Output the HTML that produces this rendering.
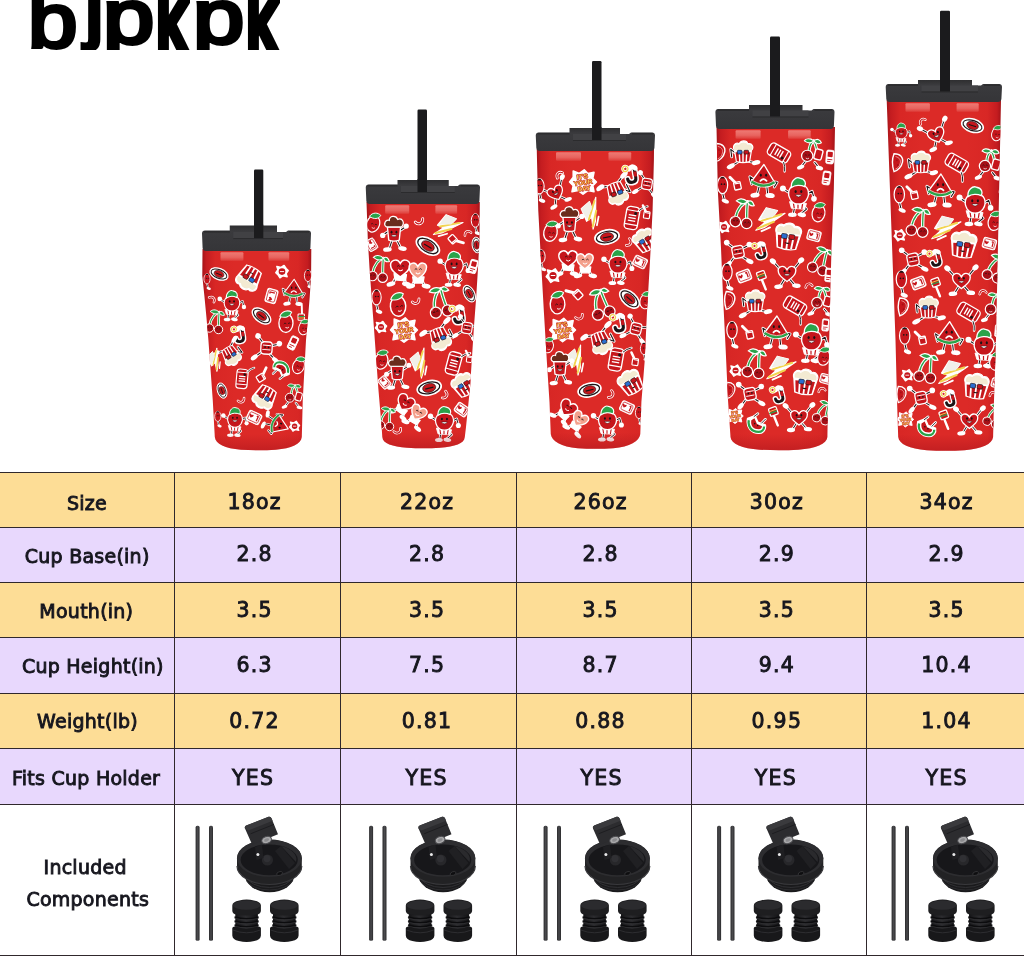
<!DOCTYPE html>
<html lang="en"><head><meta charset="utf-8"><title>BJPKPK tumbler size chart</title>
<style>
html,body{margin:0;padding:0;background:#fff}
body{width:1024px;height:958px;position:relative;overflow:hidden;font-family:"DejaVu Sans","Liberation Sans",sans-serif;color:#16161e}
.abs{position:absolute}
.row{position:absolute;left:0;width:1024px}
.t{position:absolute;width:200px;height:30px;line-height:30px;text-align:center;white-space:nowrap}
.lab{font-size:19px;letter-spacing:.25px;-webkit-text-stroke:.9px #16161e}
.val{font-size:20.5px;letter-spacing:1.25px;-webkit-text-stroke:.9px #16161e}
.hl{position:absolute;left:0;width:1024px;height:1px;background:#30282c}
.vl{position:absolute;width:1px;background:#30282c}
.logo{position:absolute;left:0;top:0;width:330px;height:50.3px;overflow:hidden}
.logo span{position:absolute;display:block;font-family:"Liberation Sans",sans-serif;color:#000;line-height:1;-webkit-text-stroke:3.8px #000;transform-origin:0 0}
</style></head>
<body>
<div class="logo" role="img" aria-label="bjpkpk"><span style="left:28.4px;top:-16.6px;font-size:74px;transform:scale(1.2,1.03)">b</span><span style="left:84.6px;top:-30.5px;font-size:76px;-webkit-text-stroke:4.4px #000;transform:scaleX(1.1)">j</span><span style="left:103px;top:-20.6px;font-size:74px;transform:scale(1.245,1.03)">p</span><span style="left:157px;top:-24px;font-size:88px;transform:scaleX(.655);-webkit-text-stroke:9px #000">k</span><span style="left:193.2px;top:-20.6px;font-size:74px;transform:scale(1.245,1.03)">p</span><span style="left:247.2px;top:-24px;font-size:88px;transform:scaleX(.655);-webkit-text-stroke:9px #000">k</span></div>
<svg class="abs" style="left:0;top:0" width="1024" height="470" viewBox="0 0 1024 470">
<defs>
<linearGradient id="rg" x1="0" x2="1" y1="0" y2="0"><stop offset="0" stop-color="#a41318"/><stop offset=".035" stop-color="#c41c20"/><stop offset=".12" stop-color="#d82725"/><stop offset=".3" stop-color="#dc2a27"/><stop offset=".7" stop-color="#dc2a27"/><stop offset=".88" stop-color="#d82725"/><stop offset=".965" stop-color="#c41c20"/><stop offset="1" stop-color="#a41318"/></linearGradient>
<linearGradient id="lg" x1="0" x2="0" y1="0" y2="1"><stop offset="0" stop-color="#2e2e30"/><stop offset=".22" stop-color="#3a3a3d"/><stop offset="1" stop-color="#353538"/></linearGradient>
<linearGradient id="hg" x1="0" x2="0" y1="0" y2="1"><stop offset="0" stop-color="#ee7a74"/><stop offset=".6" stop-color="#e8645f"/><stop offset="1" stop-color="#e25550" stop-opacity=".5"/></linearGradient>
<linearGradient id="bd" x1="0" x2="0" y1="0" y2="1"><stop offset="0" stop-color="#a0101a" stop-opacity="0"/><stop offset="1" stop-color="#a0101a" stop-opacity=".45"/></linearGradient>
<g id="s-wg"><polyline points="-4,6 -6,14" fill="none" stroke="#fff" stroke-width="3.0" stroke-linecap="round" stroke-linejoin="round"/><polyline points="-4,6 -6,14" fill="none" stroke="#1c1416" stroke-width="1.1" stroke-linecap="round" stroke-linejoin="round"/><polyline points="4,6 5,14" fill="none" stroke="#fff" stroke-width="3.0" stroke-linecap="round" stroke-linejoin="round"/><polyline points="4,6 5,14" fill="none" stroke="#1c1416" stroke-width="1.1" stroke-linecap="round" stroke-linejoin="round"/><polyline points="-8,0 -14,-4 -12,4" fill="none" stroke="#fff" stroke-width="3.0" stroke-linecap="round" stroke-linejoin="round"/><polyline points="-8,0 -14,-4 -12,4" fill="none" stroke="#1c1416" stroke-width="1.1" stroke-linecap="round" stroke-linejoin="round"/><polyline points="9,1 15,2 12,7" fill="none" stroke="#fff" stroke-width="3.0" stroke-linecap="round" stroke-linejoin="round"/><polyline points="9,1 15,2 12,7" fill="none" stroke="#1c1416" stroke-width="1.1" stroke-linecap="round" stroke-linejoin="round"/><ellipse cx="-8.5" cy="15.5" rx="5" ry="2.6" fill="#fff" transform="rotate(-8 -8.5 15.5)"/><ellipse cx="7.5" cy="16" rx="5" ry="2.6" fill="#fff" transform="rotate(5 7.5 16)"/><path d="M1,-17 L13,3 Q1,11 -13,2 Z" fill="#c5161c" stroke="#fff" stroke-width="1.45" stroke-linejoin="round"/><path d="M-13,2 Q1,11 13,3 L11.5,.5 Q1,7.5 -11.5,-.2 Z" fill="#2aa34a"/><path d="M-11.5,-.2 Q1,7.5 11.5,.5" fill="none" stroke="#f6c9c4" stroke-width=".9"/><ellipse cx="-2.3600000000000003" cy="-5.65" rx="1.1" ry="1.54" fill="#1c1416"/><ellipse cx="3.3600000000000003" cy="-5.65" rx="1.1" ry="1.54" fill="#1c1416"/><path d="M-2.8000000000000003,0.40000000000000036 Q0.5,-3.45 3.8000000000000003,0.40000000000000036" fill="none" stroke="#fff" stroke-width="1.7600000000000002" stroke-linecap="round"/></g>
<g id="s-sg"><polyline points="-7,-2 -15,-7" fill="none" stroke="#fff" stroke-width="3.0" stroke-linecap="round" stroke-linejoin="round"/><polyline points="-7,-2 -15,-7" fill="none" stroke="#1c1416" stroke-width="1.1" stroke-linecap="round" stroke-linejoin="round"/><polyline points="8,-1 15,-5 17,2" fill="none" stroke="#fff" stroke-width="3.0" stroke-linecap="round" stroke-linejoin="round"/><polyline points="8,-1 15,-5 17,2" fill="none" stroke="#1c1416" stroke-width="1.1" stroke-linecap="round" stroke-linejoin="round"/><polyline points="-3,9 -5,19" fill="none" stroke="#fff" stroke-width="3.0" stroke-linecap="round" stroke-linejoin="round"/><polyline points="-3,9 -5,19" fill="none" stroke="#1c1416" stroke-width="1.1" stroke-linecap="round" stroke-linejoin="round"/><polyline points="5,9 9,14 3,19" fill="none" stroke="#fff" stroke-width="3.0" stroke-linecap="round" stroke-linejoin="round"/><polyline points="5,9 9,14 3,19" fill="none" stroke="#1c1416" stroke-width="1.1" stroke-linecap="round" stroke-linejoin="round"/><circle cx="-16" cy="-8" r="3.2" fill="#fff"/><circle cx="17" cy="3" r="3" fill="#fff"/><ellipse cx="-6" cy="20" rx="4.6" ry="2.4" fill="#fff" transform="rotate(0 -6 20)"/><ellipse cx="4" cy="20" rx="4.6" ry="2.4" fill="#fff" transform="rotate(10 4 20)"/><path d="M-9,6 L9,8 L7,14 L-7,13 Z" fill="#fff" stroke="#fff" stroke-width="1"/><path d="M-5,6.5 L-4,13 M0,7 L0,13.4 M5,7.5 L4,13.6" stroke="#c5161c" stroke-width="1.3"/><path d="M0,-12 C12,-13 13,-2 9,4 C5,10 -4,10 -8,4 C-12,-3 -10,-12 0,-12 Z" fill="#c5161c" stroke="#fff" stroke-width="1.45"/><path d="M-7,-9 C-8,-16 -2,-21 2,-19 C8,-18 9,-13 7,-10 C3,-12 -3,-12 -7,-9 Z" fill="#2aa34a" stroke="#fff" stroke-width="1.4"/><ellipse cx="-2.4899999999999998" cy="-4.725" rx="1.15" ry="1.6099999999999999" fill="#1c1416"/><ellipse cx="3.4899999999999998" cy="-4.725" rx="1.15" ry="1.6099999999999999" fill="#1c1416"/><path d="M-2.9499999999999997,-1.2750000000000001 Q0.5,3.3249999999999993 3.9499999999999997,-1.2750000000000001 Z" fill="#fff" stroke="#1c1416" stroke-width=".5"/></g>
<g id="s-ch"><path d="M-6,5 C-4,-6 2,-12 7,-13 M6,7 C6,-2 6,-8 7,-13" fill="none" stroke="#fff" stroke-width="3.6" stroke-linecap="round"/><path d="M-6,5 C-4,-6 2,-12 7,-13 M6,7 C6,-2 6,-8 7,-13" fill="none" stroke="#2aa34a" stroke-width="1.4" stroke-linecap="round"/><path d="M7,-13 C2,-18 -3,-16 -5,-14 C0,-10 4,-10 7,-13 Z M7,-13 C11,-16 13,-12 14,-9 C10,-8 8,-10 7,-13Z" fill="#2aa34a" stroke="#fff" stroke-width="1.3"/><circle cx="-6" cy="8" r="5.6" fill="#a50f16" stroke="#fff" stroke-width="1.3"/><circle cx="6" cy="10" r="5.6" fill="#a50f16" stroke="#fff" stroke-width="1.3"/><path d="M-8.5,7.5 q1,-1.6 2,0 M-5,7.5 q1,-1.6 2,0 M3.5,9.5 q1,-1.6 2,0 M7,9.5 q1,-1.6 2,0" fill="none" stroke="#1c1416" stroke-width=".7"/><path d="M-9.5,5 a5,5 0 0 1 3,-2" fill="none" stroke="#f7b0ae" stroke-width=".9"/></g>
<g id="s-lt"><path d="M-4,-12 L8,-9 L3,-2 L16,-6 L-6,9 L-15,12 L-5,3 L-12,1 Z" fill="#fff" stroke="#fff" stroke-width="1.3" stroke-linejoin="round"/><path d="M-9,2 L12,-5 M-13,10 L4,3" stroke="#f2d44e" stroke-width="2.2" stroke-linecap="round"/><path d="M-9,13 L0,9" stroke="#fff" stroke-width="2" stroke-linecap="round"/><path d="M-4,-12 L8,-9 L3,-2 L-10,0 Z" fill="#f1efe9"/></g>
<g id="s-so"><ellipse cx="0" cy="1.5" rx="6.8" ry="9" fill="#c5161c" stroke="#fff" stroke-width="1.3" transform="rotate(12)"/><path d="M-5,-6 C-2,-11 4,-11 7,-8 C5,-4 0,-3 -5,-6 Z" fill="#2aa34a" stroke="#fff" stroke-width="1"/><path d="M-2.5,2 q1.2,-1.6 2.4,0 M1.5,2.5 q1.2,-1.6 2.4,0" fill="none" stroke="#1c1416" stroke-width=".7"/><path d="M-1.5,5.5 q1.8,1.6 3.4,.2" fill="none" stroke="#fff" stroke-width=".8"/></g>
<g id="s-pb"><path d="M-13,-3 C-16,-9 -11,-14 -6,-12 C-3,-16 4,-16 6,-12 C11,-14 15,-9 13,-4 L10,12 Q0,15 -10,12 Z" fill="#fff" stroke="#fff" stroke-width="1.3"/><path d="M-11,-1 L11,-2 L9,11.5 Q0,14 -9,11.5 Z" fill="#c5161c"/><path d="M-6,-1 L-5,12.5 M0,-1.5 L0,13 M6,-1.7 L5,12.5" stroke="#fff" stroke-width="2"/><path d="M-12,-4 C-14,-9 -10,-12 -6,-10 C-3,-14 3,-14 5,-10 C10,-12 13,-8 12,-4 Z" fill="#f3ead2"/><rect x="-7" y="-3" width="6" height="5" rx="1" fill="#2a6fd1" stroke="#1c1416" stroke-width=".7"/><rect x="1" y="-3" width="6" height="5" rx="1" fill="#c5161c" stroke="#1c1416" stroke-width=".7"/><path d="M-3,6 q3,3 6,0 z" fill="#1c1416"/></g>
<g id="s-pg"><polyline points="-3,6 -11,11" fill="none" stroke="#fff" stroke-width="3.0" stroke-linecap="round" stroke-linejoin="round"/><polyline points="-3,6 -11,11" fill="none" stroke="#1c1416" stroke-width="1.1" stroke-linecap="round" stroke-linejoin="round"/><polyline points="3,6 12,8" fill="none" stroke="#fff" stroke-width="3.0" stroke-linecap="round" stroke-linejoin="round"/><polyline points="3,6 12,8" fill="none" stroke="#1c1416" stroke-width="1.1" stroke-linecap="round" stroke-linejoin="round"/><polyline points="-8,-2 -13,-6 -12,2" fill="none" stroke="#fff" stroke-width="3.0" stroke-linecap="round" stroke-linejoin="round"/><polyline points="-8,-2 -13,-6 -12,2" fill="none" stroke="#1c1416" stroke-width="1.1" stroke-linecap="round" stroke-linejoin="round"/><ellipse cx="-13" cy="12" rx="4.6" ry="2.5" fill="#fff" transform="rotate(-25 -13 12)"/><ellipse cx="14" cy="8" rx="4.6" ry="2.5" fill="#fff" transform="rotate(-15 14 8)"/><path d="M-9,-5 C-12,-10 -8,-14 -4,-12 C-2,-16 4,-16 5,-12 C10,-13 12,-8 9,-5 L7,7 Q0,9 -7,7 Z" fill="#fff" stroke="#fff" stroke-width="1.3"/><path d="M-8,-3 L8,-3 L6.5,6.5 Q0,8.5 -6.5,6.5 Z" fill="#c5161c"/><path d="M-4,-3 L-3.4,7.4 M0,-3 L0,7.8 M4,-3 L3.4,7.4" stroke="#fff" stroke-width="1.5"/><path d="M-9,-5 C-11,-10 -8,-12 -4,-11 C-2,-14 3,-14 5,-11 C9,-12 11,-8 9,-5 Z" fill="#f3ead2"/><rect x="-6" y="-5" width="5" height="4" rx="1" fill="#2a6fd1" stroke="#1c1416" stroke-width=".7"/><rect x="1" y="-5" width="5" height="4" rx="1" fill="#c5161c" stroke="#1c1416" stroke-width=".7"/></g>
<g id="s-sc"><rect x="-12" y="-7" width="24" height="14" rx="4" fill="#c5161c" stroke="#fff" stroke-width="1.45"/><path d="M-7,-7 L-7,7 M8,-7 L8,7" stroke="#fff" stroke-width="1.2"/><path d="M-3,-4 L-3,4 M0,-4 L0,4 M3,-4 L3,4" stroke="#fff" stroke-width="1.5"/><path d="M9,6 q4,3 6,8" fill="none" stroke="#fff" stroke-width="2.6" stroke-linecap="round"/><path d="M9,6 q4,3 6,8" fill="none" stroke="#1c1416" stroke-width=".9"/><circle cx="5.5" cy="3" r="1.6" fill="#1c1416"/></g>
<g id="s-cg"><path d="M-2,-2 C-2,-8 0,-12 3,-14 M7,0 C6,-6 5,-10 3,-14" fill="none" stroke="#fff" stroke-width="3.4" stroke-linecap="round"/><path d="M-2,-2 C-2,-8 0,-12 3,-14 M7,0 C6,-6 5,-10 3,-14" fill="none" stroke="#2aa34a" stroke-width="1.3"/><path d="M3,-14 C-2,-18 -6,-16 -7,-14 C-3,-11 0,-11 3,-14 Z M3,-14 C7,-17 10,-15 11,-12 C8,-10 5,-11 3,-14Z" fill="#2aa34a" stroke="#fff" stroke-width="1.2"/><polyline points="-6,8 -10,13" fill="none" stroke="#fff" stroke-width="3.0" stroke-linecap="round" stroke-linejoin="round"/><polyline points="-6,8 -10,13" fill="none" stroke="#1c1416" stroke-width="1.1" stroke-linecap="round" stroke-linejoin="round"/><polyline points="4,9 8,14" fill="none" stroke="#fff" stroke-width="3.0" stroke-linecap="round" stroke-linejoin="round"/><polyline points="4,9 8,14" fill="none" stroke="#1c1416" stroke-width="1.1" stroke-linecap="round" stroke-linejoin="round"/><ellipse cx="-11" cy="14" rx="4" ry="2.2" fill="#fff" transform="rotate(-20 -11 14)"/><ellipse cx="9" cy="15" rx="4" ry="2.2" fill="#fff" transform="rotate(15 9 15)"/><rect x="4" y="-5" width="8" height="11" rx="2" fill="#c5161c" stroke="#fff" stroke-width="1.5" transform="rotate(15 8 0)"/><circle cx="-4" cy="2" r="6" fill="#a50f16" stroke="#fff" stroke-width="1.3"/><path d="M-6.5,1.5 q1,-1.6 2,0 M-3,1.5 q1,-1.6 2,0" fill="none" stroke="#1c1416" stroke-width=".7"/><path d="M-5.5,4.4 q1.8,1.4 3.4,0" fill="none" stroke="#fff" stroke-width=".8"/></g>
<g id="s-cd"><rect x="-7" y="-5.5" width="14" height="11" rx="2.2" fill="#fff" stroke="#fff" stroke-width="1"/><rect x="-5.6" y="-4.2" width="11.2" height="8.4" rx="1.4" fill="none" stroke="#c5161c" stroke-width=".7"/><path d="M-3.2,-1.2 q-1.6,-2 -2.2,0 q.2,1.6 2.2,2.8 q2,-1.2 2.2,-2.8 q-.6,-2 -2.2,0z" fill="#c5161c"/><path d="M2,-2.4 l1.6,0 l0,5" fill="none" stroke="#c5161c" stroke-width="1.3"/></g>
<g id="s-lg"><polyline points="-3,-3 -11,-9" fill="none" stroke="#fff" stroke-width="3.0" stroke-linecap="round" stroke-linejoin="round"/><polyline points="-3,-3 -11,-9" fill="none" stroke="#1c1416" stroke-width="1.1" stroke-linecap="round" stroke-linejoin="round"/><polyline points="3,-3 11,-7" fill="none" stroke="#fff" stroke-width="3.0" stroke-linecap="round" stroke-linejoin="round"/><polyline points="3,-3 11,-7" fill="none" stroke="#1c1416" stroke-width="1.1" stroke-linecap="round" stroke-linejoin="round"/><polyline points="-3,4 -9,12" fill="none" stroke="#fff" stroke-width="3.0" stroke-linecap="round" stroke-linejoin="round"/><polyline points="-3,4 -9,12" fill="none" stroke="#1c1416" stroke-width="1.1" stroke-linecap="round" stroke-linejoin="round"/><polyline points="3,4 11,9" fill="none" stroke="#fff" stroke-width="3.0" stroke-linecap="round" stroke-linejoin="round"/><polyline points="3,4 11,9" fill="none" stroke="#1c1416" stroke-width="1.1" stroke-linecap="round" stroke-linejoin="round"/><circle cx="-12" cy="-10" r="3" fill="#fff"/><circle cx="12" cy="-8" r="3" fill="#fff"/><ellipse cx="-10" cy="13" rx="4.2" ry="2.4" fill="#fff" transform="rotate(-50 -10 13)"/><ellipse cx="12.5" cy="10" rx="4.2" ry="2.4" fill="#fff" transform="rotate(25 12.5 10)"/><rect x="-6" y="-6.5" width="12" height="13" rx="3.5" fill="#c5161c" stroke="#fff" stroke-width="1.4" transform="rotate(-12)"/><path d="M-4.5,-2 L4,-3.6 M-4,2.6 L4.6,1" stroke="#fff" stroke-width="1"/><circle cx="-1.8" cy="-.6" r=".9" fill="#1c1416"/><circle cx="2" cy="-1.2" r=".9" fill="#1c1416"/></g>
<g id="s-jh"><path d="M3,-5 L3,4 Q3,8 -1,8 Q-5,8 -5,4" fill="none" stroke="#fff" stroke-width="6" stroke-linecap="round"/><path d="M3,-5 L3,4 Q3,8 -1,8 Q-5,8 -5,4" fill="none" stroke="#1c1416" stroke-width="3" stroke-linecap="round"/><path d="M3,-2 L3,3" stroke="#c5161c" stroke-width="3"/><path d="M-2,-5 q3,-4 6,0" fill="none" stroke="#fff" stroke-width="4.5" stroke-linecap="round"/><circle cx="-5.5" cy="-6" r="2.6" fill="none" stroke="#fff" stroke-width="2.8"/><circle cx="-5.5" cy="-6" r="2.6" fill="none" stroke="#f2d44e" stroke-width="1.2"/></g>
<g id="s-hg"><polyline points="-6,-3 -14,-12" fill="none" stroke="#fff" stroke-width="3.0" stroke-linecap="round" stroke-linejoin="round"/><polyline points="-6,-3 -14,-12" fill="none" stroke="#1c1416" stroke-width="1.1" stroke-linecap="round" stroke-linejoin="round"/><polyline points="6,-3 14,-13" fill="none" stroke="#fff" stroke-width="3.0" stroke-linecap="round" stroke-linejoin="round"/><polyline points="6,-3 14,-13" fill="none" stroke="#1c1416" stroke-width="1.1" stroke-linecap="round" stroke-linejoin="round"/><polyline points="-2,5 -7,13" fill="none" stroke="#fff" stroke-width="3.0" stroke-linecap="round" stroke-linejoin="round"/><polyline points="-2,5 -7,13" fill="none" stroke="#1c1416" stroke-width="1.1" stroke-linecap="round" stroke-linejoin="round"/><polyline points="2,5 8,12" fill="none" stroke="#fff" stroke-width="3.0" stroke-linecap="round" stroke-linejoin="round"/><polyline points="2,5 8,12" fill="none" stroke="#1c1416" stroke-width="1.1" stroke-linecap="round" stroke-linejoin="round"/><ellipse cx="-15" cy="-13" rx="3.6" ry="2.8" fill="#fff" transform="rotate(40 -15 -13)"/><ellipse cx="15" cy="-14" rx="3.6" ry="2.8" fill="#fff" transform="rotate(-40 15 -14)"/><ellipse cx="-9" cy="14" rx="4.6" ry="2.4" fill="#fff" transform="rotate(-5 -9 14)"/><ellipse cx="10" cy="13" rx="4.6" ry="2.4" fill="#fff" transform="rotate(5 10 13)"/><path d="M0,-4 C-3,-10 -11,-8 -9,-1 C-8,3 -3,6 0,8.5 C3,6 8,3 9,-1 C11,-8 3,-10 0,-4 Z" fill="#c5161c" stroke="#fff" stroke-width="1.45"/><ellipse cx="-2.6" cy="-2.5" rx="1.0" ry="1.4" fill="#1c1416"/><ellipse cx="2.6" cy="-2.5" rx="1.0" ry="1.4" fill="#1c1416"/><path d="M-3.0,0.5 Q0,4.5 3.0,0.5 Z" fill="#fff" stroke="#1c1416" stroke-width=".5"/></g>
<g id="s-pf"><path d="M0,0 L4,10" stroke="#fff" stroke-width="2.6" stroke-linecap="round"/><rect x="-5" y="-9" width="8.5" height="8.5" rx="1.2" fill="#c5161c" stroke="#fff" stroke-width="1.4" transform="rotate(-20 -1 -5)"/><path d="M-5,-2.5 L3,-5.4" stroke="#2aa34a" stroke-width="1.3"/><path d="M-5.4,-4.4 L2.4,-7.2" stroke="#f2d44e" stroke-width="1"/></g>
<g id="s-mc"><path d="M-3,3 C-5,-2 -1,-5 3,-3" fill="none" stroke="#fff" stroke-width="3.1" stroke-linecap="round"/><path d="M-3,3 C-5,-2 -1,-5 3,-3" fill="none" stroke="#c5161c" stroke-width="1.3" stroke-linecap="round"/></g>
<g id="s-po"><path d="M-4,-9 C3,-9 6,-5 5,0 C4,5 0,9 -4,10 C-6,4 -6,-4 -4,-9 Z" fill="#c5161c" stroke="#fff" stroke-width="1.5"/><path d="M-2.4,-6 C2,-5 3.4,-2 2.6,1 C2,4 0,6.4 -2.6,7.4" fill="none" stroke="#f3b6b0" stroke-width=".8"/><circle cx="-1" cy="-2" r="1" fill="#a50f16"/><circle cx="0" cy="3" r="1" fill="#a50f16"/></g>
<g id="s-sy"><path d="M-6,-6 L0,0" stroke="#fff" stroke-width="3" stroke-linecap="round"/><rect x="-1.5" y="-1" width="7" height="8" rx="1" fill="#c5161c" stroke="#fff" stroke-width="1.4" transform="rotate(-12 2 3)"/><path d="M-1,1 L5,0" stroke="#fff" stroke-width="1.3"/></g>
<g id="s-sw"><path d="M-9,-6 C-11,4 -5,10 3,10 C8,10 11,6 10,1 L2,-2 L-1,-9 Z" fill="#fff" stroke="#fff" stroke-width="1.45" stroke-linejoin="round"/><path d="M-7.6,-4 C-9,3 -4.6,8.4 2.6,8.4 C6,8.4 8.6,6 8.6,2.6" fill="none" stroke="#2aa34a" stroke-width="2.4"/><path d="M-5,-4 C-6,2 -2.6,5.6 3,5.6 C5,5.4 6.2,4.4 6.4,2.4 L1,0 L-1.6,-6 Z" fill="#c5161c"/><circle cx="-1.4" cy="-.4" r=".8" fill="#1c1416"/><circle cx="1.8" cy="1.6" r=".8" fill="#1c1416"/><polyline points="6,-1 10,-5" fill="none" stroke="#fff" stroke-width="2.8" stroke-linecap="round" stroke-linejoin="round"/><polyline points="6,-1 10,-5" fill="none" stroke="#1c1416" stroke-width="0.9" stroke-linecap="round" stroke-linejoin="round"/><polyline points="-2,-8 2,-11" fill="none" stroke="#fff" stroke-width="2.8" stroke-linecap="round" stroke-linejoin="round"/><polyline points="-2,-8 2,-11" fill="none" stroke="#1c1416" stroke-width="0.9" stroke-linecap="round" stroke-linejoin="round"/></g>
<g id="s-yd"><path d="M-8,-9 L-3,-7 L1,-10 L4,-7 L9,-8 L8,-3 L11,0 L8,3 L9,8 L4,7 L0,10 L-4,7 L-9,8 L-8,3 L-11,0 L-8,-4 Z" fill="#fff" stroke="#fff" stroke-width="1.3" stroke-linejoin="round"/><g font-family="Liberation Sans, DejaVu Sans, sans-serif" font-weight="bold" font-size="5.2" text-anchor="middle" fill="#f2d44e" stroke="#c5161c" stroke-width=".9" paint-order="stroke" transform="rotate(-8)"><text x="0" y="-2.8">IT'S</text><text x="0" y="2.2">YOUR</text><text x="0" y="7.2">DAY</text></g></g>
<g id="s-th"><polyline points="-10,4 -14,12" fill="none" stroke="#fff" stroke-width="3.0" stroke-linecap="round" stroke-linejoin="round"/><polyline points="-10,4 -14,12" fill="none" stroke="#1c1416" stroke-width="1.1" stroke-linecap="round" stroke-linejoin="round"/><polyline points="-4,5 -2,12" fill="none" stroke="#fff" stroke-width="3.0" stroke-linecap="round" stroke-linejoin="round"/><polyline points="-4,5 -2,12" fill="none" stroke="#1c1416" stroke-width="1.1" stroke-linecap="round" stroke-linejoin="round"/><polyline points="8,7 5,14" fill="none" stroke="#fff" stroke-width="3.0" stroke-linecap="round" stroke-linejoin="round"/><polyline points="8,7 5,14" fill="none" stroke="#1c1416" stroke-width="1.1" stroke-linecap="round" stroke-linejoin="round"/><polyline points="13,7 16,14" fill="none" stroke="#fff" stroke-width="3.0" stroke-linecap="round" stroke-linejoin="round"/><polyline points="13,7 16,14" fill="none" stroke="#1c1416" stroke-width="1.1" stroke-linecap="round" stroke-linejoin="round"/><ellipse cx="-16" cy="13" rx="4.4" ry="2.3" fill="#fff" transform="rotate(-15 -16 13)"/><ellipse cx="-1" cy="13" rx="4.4" ry="2.3" fill="#fff" transform="rotate(10 -1 13)"/><ellipse cx="3" cy="15" rx="4.4" ry="2.3" fill="#fff" transform="rotate(-10 3 15)"/><ellipse cx="18" cy="15" rx="4.4" ry="2.3" fill="#fff" transform="rotate(10 18 15)"/><path d="M-13,3 L-1,4 L-2,10 L-12,9 Z M5,6 L16,6 L15,12 L6,12 Z" fill="#fff" stroke="#fff" stroke-width="1.3" stroke-linejoin="round"/><path d="M-7,-7 C-10,-13 -18,-10 -16,-3 C-15,1 -10,4 -7,6 C-4,4 1,1 2,-3 C4,-10 -4,-13 -7,-7 Z" fill="#c5161c" stroke="#fff" stroke-width="1.45"/><path d="M10,-4 C7,-10 0,-7 2,-1 C3,3 7,6 10,8 C13,6 17,3 18,-1 C20,-7 13,-10 10,-4 Z" fill="#f4a08c" stroke="#fff" stroke-width="1.45"/><path d="M-10,-4 q1.2,-1.8 2.4,0 M-5.6,-4 q1.2,-1.8 2.4,0 M7,-1 q1.2,-1.8 2.4,0 M11.4,-1 q1.2,-1.8 2.4,0" fill="none" stroke="#1c1416" stroke-width=".8"/><path d="M-9,-1 q2,2.4 4.4,0 M8,2 q2,2.4 4.4,0" fill="none" stroke="#fff" stroke-width="1"/></g>
<g id="s-cy"><polyline points="-5,-2 -11,2" fill="none" stroke="#fff" stroke-width="3.0" stroke-linecap="round" stroke-linejoin="round"/><polyline points="-5,-2 -11,2" fill="none" stroke="#1c1416" stroke-width="1.1" stroke-linecap="round" stroke-linejoin="round"/><polyline points="6,-2 12,-6" fill="none" stroke="#fff" stroke-width="3.0" stroke-linecap="round" stroke-linejoin="round"/><polyline points="6,-2 12,-6" fill="none" stroke="#1c1416" stroke-width="1.1" stroke-linecap="round" stroke-linejoin="round"/><polyline points="-2,8 -5,17" fill="none" stroke="#fff" stroke-width="3.0" stroke-linecap="round" stroke-linejoin="round"/><polyline points="-2,8 -5,17" fill="none" stroke="#1c1416" stroke-width="1.1" stroke-linecap="round" stroke-linejoin="round"/><polyline points="3,8 7,16" fill="none" stroke="#fff" stroke-width="3.0" stroke-linecap="round" stroke-linejoin="round"/><polyline points="3,8 7,16" fill="none" stroke="#1c1416" stroke-width="1.1" stroke-linecap="round" stroke-linejoin="round"/><circle cx="-12" cy="3" r="2.8" fill="#fff"/><circle cx="13" cy="-7" r="2.8" fill="#fff"/><ellipse cx="-7" cy="18" rx="4.6" ry="2.4" fill="#fff" transform="rotate(-5 -7 18)"/><ellipse cx="9" cy="17" rx="4.6" ry="2.4" fill="#fff" transform="rotate(10 9 17)"/><path d="M-7,-6 L7,-6 L5.6,8 Q0,10 -5.6,8 Z" fill="#c5161c" stroke="#fff" stroke-width="1.45" stroke-linejoin="round"/><path d="M-8,-6 C-12,-9 -9,-14 -5,-13 C-5,-18 2,-19 4,-14 C9,-16 12,-10 8,-6 Z" fill="#6a2c1c" stroke="#fff" stroke-width="1.3"/><ellipse cx="-2.6" cy="-0.5" rx="1.0" ry="1.4" fill="#1c1416"/><ellipse cx="2.6" cy="-0.5" rx="1.0" ry="1.4" fill="#1c1416"/><path d="M-3.0,2.5 Q0,6.5 3.0,2.5 Z" fill="#fff" stroke="#1c1416" stroke-width=".5"/></g>
<g id="s-cl"><ellipse cx="0" cy="0" rx="12" ry="7" fill="#fff" stroke="#fff" stroke-width="1.3" transform="rotate(12)"/><ellipse cx="0" cy="0" rx="10.4" ry="5.4" fill="none" stroke="#1c1416" stroke-width="1.2" transform="rotate(12)"/><ellipse cx="0" cy="0" rx="6.4" ry="4.2" fill="#c5161c" stroke="#1c1416" stroke-width=".6" transform="rotate(12)"/><path d="M-4,-.6 L4,1" stroke="#1c1416" stroke-width="1.1"/></g>
<g id="s-sp"><path d="M-5,-5 L-1,-4 L2,-6 L4,-3 L6,-1 L4,2 L5,5 L1,4 L-2,6 L-4,3 L-6,1 L-4,-2 Z" fill="#fff" stroke="#fff" stroke-width="1.4" stroke-linejoin="round"/><circle cx="0" cy="0" r="3.2" fill="#c5161c"/><path d="M-2,0 L2,0" stroke="#fff" stroke-width=".9"/></g>
<g id="s-bc"><rect x="-4.5" y="-8" width="9" height="16" rx="2" fill="#fff" stroke="#fff" stroke-width="1"/><rect x="-3" y="-6" width="6" height="6" rx="1" fill="#c5161c"/><path d="M-3,3 L3,3 M-3,5.4 L1,5.4" stroke="#c5161c" stroke-width="1"/></g>
<g id="s-ec"><polyline points="0,6 2,14" fill="none" stroke="#fff" stroke-width="3.0" stroke-linecap="round" stroke-linejoin="round"/><polyline points="0,6 2,14" fill="none" stroke="#1c1416" stroke-width="1.1" stroke-linecap="round" stroke-linejoin="round"/><ellipse cx="3" cy="15" rx="4" ry="2.2" fill="#fff" transform="rotate(20 3 15)"/><ellipse cx="0" cy="-2" rx="5.5" ry="9" fill="#c5161c" stroke="#fff" stroke-width="1.3"/><path d="M-3,-9 q3,-4 6,0" fill="#1c1416"/><circle cx="-1" cy="-3" r=".9" fill="#1c1416"/><circle cx="2" cy="-3" r=".9" fill="#1c1416"/></g>
</defs>
<g id="cup1">
<path id="b1" d="M202.5,249 L202.3,276 L204.5,297 L206.5,318 L208.4,340 L212.75,400 L214.8,437 C215.4,444 225.2,448.4 240.9,449.7 Q258.3,450.7 275.7,449.7 C291.4,448.4 301.2,444 301.8,437 L302.75,400 L306,340 L308,318 L309.7,297 L311.1,276 L311.3,249 Z" fill="url(#rg)"/>
<clipPath id="cp1"><use href="#b1"/></clipPath>
<g clip-path="url(#cp1)"><use href="#s-cl" transform="translate(219.0,274.0) rotate(10) scale(0.799)"/><use href="#s-pb" transform="translate(249.0,278.0) rotate(-150) scale(0.846)"/><use href="#s-sp" transform="translate(282.0,271.6) scale(1.034)"/><use href="#s-wg" transform="translate(293.4,292.0) scale(0.752)"/><use href="#s-ec" transform="translate(308.0,277.0) scale(0.658)"/><use href="#s-cd" transform="translate(271.5,296.0) rotate(-75) scale(0.987)"/><use href="#s-sg" transform="translate(231.5,304.8) scale(0.733)"/><use href="#s-mc" transform="translate(211.5,299.8) rotate(90) scale(0.8)"/><use href="#s-cl" transform="translate(261.5,316.0) rotate(25) scale(0.893)"/><use href="#s-so" transform="translate(286.0,321.6) rotate(-10) scale(1.034)"/><use href="#s-pf" transform="translate(302.0,313.5) rotate(200) scale(0.752)"/><use href="#s-ch" transform="translate(214.0,322.0) scale(0.752)"/><use href="#s-jh" transform="translate(240.0,334.0) rotate(-10) scale(0.94)"/><use href="#s-lg" transform="translate(266.5,348.0) rotate(15) scale(0.94)"/><use href="#s-bc" transform="translate(293.0,343.0) rotate(25) scale(0.846)"/><use href="#s-pg" transform="translate(230.0,353.5) rotate(150) scale(0.846)"/><use href="#s-lt" transform="translate(215.0,359.0) rotate(-60) scale(0.658)"/><use href="#s-so" transform="translate(304.0,327.0) scale(0.752)"/><use href="#s-sc" transform="translate(242.0,378.8) rotate(-85) scale(0.799)"/><use href="#s-sy" transform="translate(262.8,375.0) rotate(70) scale(0.94)"/><use href="#s-sw" transform="translate(281.5,369.4) rotate(180) scale(0.846)"/><use href="#s-so" transform="translate(299.0,365.0) rotate(10) scale(0.846)"/><use href="#s-cl" transform="translate(222.0,390.6) rotate(60) scale(0.658)"/><use href="#s-mc" transform="translate(241.0,399.4) rotate(200) scale(0.8)"/><use href="#s-pb" transform="translate(264.6,397.0) rotate(-150) scale(0.799)"/><use href="#s-cg" transform="translate(292.8,396.2) scale(0.752)"/><use href="#s-sg" transform="translate(234.6,421.2) scale(0.705)"/><use href="#s-cd" transform="translate(254.0,417.5) rotate(25) scale(0.987)"/><use href="#s-wg" transform="translate(276.5,423.8) rotate(110) scale(0.752)"/><use href="#s-sp" transform="translate(294.6,426.2) scale(0.846)"/><use href="#s-ec" transform="translate(217.8,417.5) scale(0.564)"/><use href="#s-ec" transform="translate(207.0,280.0) scale(0.564)"/><rect x="202" y="434" width="109" height="18" fill="url(#bd)"/></g>
<rect x="220.5" y="252.2" width="22.9" height="8.6" rx="1" fill="url(#hg)"/><rect x="268.5" y="252.2" width="20.7" height="8.6" rx="1" fill="url(#hg)"/>
<rect x="254" y="169.5" width="9.300000000000011" height="69.1" rx="1.2" fill="#1b1b1d"/>
<path d="M202,233.6 Q202,230.6 205,230.6 L229.75,230.6 L229.75,225.6 L277,225.6 L277,232.1 L286,232.1 L288,230.6 L308,230.6 Q311,230.6 311,233.6 L310.4,248 Q310,251 307,251 L206,251 Q203,251 202.6,248 Z" fill="url(#lg)"/>
<path d="M233.25,232.1 L283,232.1 L283,238.1 L233.25,238.1 Z" fill="#414144"/><rect x="233.25" y="238.1" width="49.75" height="1" fill="#2b2b2d"/>
<rect x="204" y="231.0" width="25.75" height="1.6" fill="#2c2c2e"/><rect x="289" y="231.0" width="20" height="1.6" fill="#2c2c2e"/>
<rect x="254" y="224.6" width="9.300000000000011" height="13.5" fill="#1b1b1d"/>
</g>
<g id="cup2">
<path id="b2" d="M366.5,202 L367.8,239 L369.5,268 L371.6,297 L373.8,326 L378.3,388 L381.7,428 L382.3,437 C382.90000000000003,444 392.2,446.4 407.1,447.7 Q423.55,448.7 440.1,447.7 C454.9,446.4 464.2,444 464.8,437 L465.9,428 L470,388 L474,326 L476.2,297 L478,268 L479.5,239 L479.8,202 Z" fill="url(#rg)"/>
<clipPath id="cp2"><use href="#b2"/></clipPath>
<g clip-path="url(#cp2)"><use href="#s-so" transform="translate(373.6,222.4) rotate(5) scale(0.94)"/><use href="#s-cy" transform="translate(394.0,232.6) scale(0.94)"/><use href="#s-mc" transform="translate(419.0,220.4) rotate(200) scale(0.96)"/><use href="#s-lt" transform="translate(448.2,225.8) rotate(8) scale(0.893)"/><use href="#s-ec" transform="translate(475.4,222.0) scale(0.752)"/><use href="#s-mc" transform="translate(468.0,234.0) rotate(20) scale(0.8)"/><use href="#s-cd" transform="translate(371.5,244.8) rotate(60) scale(0.846)"/><use href="#s-cl" transform="translate(427.9,246.0) rotate(20) scale(1.081)"/><use href="#s-sy" transform="translate(455.7,240.7) rotate(150) scale(0.94)"/><use href="#s-cl" transform="translate(476.7,245.0) rotate(70) scale(0.658)"/><use href="#s-ch" transform="translate(377.6,269.2) scale(0.846)"/><use href="#s-th" transform="translate(407.5,270.6) scale(1.034)"/><use href="#s-sg" transform="translate(453.7,267.9) scale(0.846)"/><use href="#s-bc" transform="translate(473.3,266.5) rotate(15) scale(0.846)"/><use href="#s-cl" transform="translate(469.3,293.7) rotate(50) scale(0.752)"/><use href="#s-so" transform="translate(398.0,304.5) rotate(-15) scale(1.128)"/><use href="#s-mc" transform="translate(415.6,300.4) rotate(200) scale(0.88)"/><use href="#s-ch" transform="translate(438.7,303.2) rotate(-20) scale(0.987)"/><use href="#s-ec" transform="translate(376.5,299.0) scale(0.846)"/><use href="#s-jh" transform="translate(459.0,314.0) rotate(-10) scale(1.034)"/><use href="#s-yd" transform="translate(404.0,330.0) scale(1.222)"/><use href="#s-pg" transform="translate(439.0,336.0) rotate(160) scale(0.987)"/><use href="#s-sp" transform="translate(381.0,327.0) scale(0.94)"/><use href="#s-lg" transform="translate(467.0,328.0) rotate(20) scale(0.846)"/><use href="#s-so" transform="translate(381.7,359.4) scale(0.94)"/><use href="#s-cy" transform="translate(397.3,371.6) scale(0.893)"/><use href="#s-lt" transform="translate(420.4,362.0) rotate(-55) scale(0.846)"/><use href="#s-sc" transform="translate(453.7,363.4) rotate(-75) scale(0.94)"/><use href="#s-sy" transform="translate(468.6,356.6) rotate(20) scale(0.752)"/><use href="#s-cd" transform="translate(384.4,382.4) rotate(50) scale(0.846)"/><use href="#s-cl" transform="translate(429.2,387.9) rotate(-25) scale(1.034)"/><use href="#s-pb" transform="translate(463.8,385.0) rotate(-30) scale(0.799)"/><use href="#s-mc" transform="translate(444.0,394.6) rotate(160) scale(0.88)"/><use href="#s-th" transform="translate(410.0,408.0) rotate(30) scale(0.94)"/><use href="#s-sg" transform="translate(444.0,423.0) scale(0.846)"/><use href="#s-cd" transform="translate(461.8,409.6) rotate(35) scale(0.94)"/><use href="#s-ch" transform="translate(385.0,419.0) scale(0.752)"/><use href="#s-mc" transform="translate(397.3,430.0) rotate(200) scale(0.88)"/><rect x="365.75" y="432" width="114.25" height="18" fill="url(#bd)"/></g>
<rect x="385.2" y="205.2" width="24.0" height="8.6" rx="1" fill="url(#hg)"/><rect x="435.4" y="205.2" width="21.7" height="8.6" rx="1" fill="url(#hg)"/>
<rect x="417.5" y="109.5" width="9.5" height="83.0" rx="1.2" fill="#1b1b1d"/>
<path d="M365.75,187.5 Q365.75,184.5 368.75,184.5 L397.5,184.5 L397.5,180 L448.75,180 L448.75,186.0 L457.75,186.0 L459.75,184.5 L477,184.5 Q480,184.5 480,187.5 L479.4,201 Q479,204 476,204 L369.75,204 Q366.75,204 366.35,201 Z" fill="url(#lg)"/>
<path d="M401.0,186.0 L454.75,186.0 L454.75,192.0 L401.0,192.0 Z" fill="#414144"/><rect x="401.0" y="192.0" width="53.75" height="1" fill="#2b2b2d"/>
<rect x="367.75" y="184.9" width="29.75" height="1.6" fill="#2c2c2e"/><rect x="460.75" y="184.9" width="17.25" height="1.6" fill="#2c2c2e"/>
<rect x="417.5" y="179" width="9.5" height="13.0" fill="#1b1b1d"/>
</g>
<g id="cup3">
<path id="b3" d="M536.75,149 L537,160 L538.25,210 L541,261 L543.9,312 L546.9,362 L549.5,402 L550.75,434 C551.35,441 561.5,446.9 577.6,448.2 Q595.525,449.2 613.4,448.2 C629.6,446.9 639.6999999999999,441 640.3,434 L641.4,402 L644.6,362 L647,312 L650,261 L652.6,210 L653.9,160 L654,149 Z" fill="url(#rg)"/>
<clipPath id="cp3"><use href="#b3"/></clipPath>
<g clip-path="url(#cp3)"><use href="#s-mc" transform="translate(560.0,175.5) scale(0.88)"/><use href="#s-hg" transform="translate(555.8,193.0) rotate(-25) scale(0.846)"/><use href="#s-yd" transform="translate(583.0,182.0) scale(1.222)"/><use href="#s-pg" transform="translate(616.0,190.5) rotate(160) scale(0.987)"/><use href="#s-jh" transform="translate(632.0,174.0) rotate(-10) scale(1.034)"/><use href="#s-lg" transform="translate(647.0,184.0) rotate(20) scale(0.846)"/><use href="#s-ec" transform="translate(539.5,188.0) scale(0.846)"/><use href="#s-lt" transform="translate(592.0,212.0) rotate(-55) scale(0.893)"/><use href="#s-cy" transform="translate(569.5,223.0) scale(0.94)"/><use href="#s-sc" transform="translate(632.0,218.0) rotate(-80) scale(0.94)"/><use href="#s-so" transform="translate(550.8,231.0) scale(0.987)"/><use href="#s-sy" transform="translate(646.0,212.0) rotate(20) scale(0.846)"/><use href="#s-cl" transform="translate(607.0,237.0) rotate(-22) scale(1.034)"/><use href="#s-mc" transform="translate(628.0,242.0) rotate(160) scale(0.88)"/><use href="#s-pb" transform="translate(645.0,240.5) rotate(-30) scale(0.799)"/><use href="#s-th" transform="translate(575.0,261.0) scale(0.987)"/><use href="#s-sg" transform="translate(617.5,266.0) scale(0.846)"/><use href="#s-cd" transform="translate(640.0,262.0) rotate(25) scale(0.94)"/><use href="#s-ec" transform="translate(541.0,258.0) scale(0.752)"/><use href="#s-sp" transform="translate(553.0,275.6) scale(1.128)"/><use href="#s-sy" transform="translate(574.5,293.0) rotate(-30) scale(1.034)"/><use href="#s-so" transform="translate(557.6,302.5) rotate(-10) scale(1.081)"/><use href="#s-ch" transform="translate(600.0,305.0) rotate(-25) scale(0.987)"/><use href="#s-cl" transform="translate(629.5,298.8) rotate(30) scale(0.987)"/><use href="#s-so" transform="translate(646.0,300.0) scale(0.846)"/><use href="#s-mc" transform="translate(579.0,316.0) rotate(200) scale(0.88)"/><use href="#s-jh" transform="translate(619.5,322.5) rotate(-10) scale(1.034)"/><use href="#s-yd" transform="translate(562.6,330.0) scale(1.175)"/><use href="#s-pg" transform="translate(600.0,340.0) rotate(160) scale(0.987)"/><use href="#s-lg" transform="translate(636.0,328.8) rotate(25) scale(0.893)"/><use href="#s-lt" transform="translate(577.0,359.0) rotate(-55) scale(0.846)"/><use href="#s-cy" transform="translate(560.0,367.0) scale(0.893)"/><use href="#s-sc" transform="translate(616.0,359.5) rotate(-80) scale(0.94)"/><use href="#s-sy" transform="translate(634.5,359.0) rotate(20) scale(0.846)"/><use href="#s-ec" transform="translate(644.0,350.0) scale(0.658)"/><use href="#s-cl" transform="translate(589.5,390.0) rotate(-25) scale(0.987)"/><use href="#s-pb" transform="translate(630.8,382.5) rotate(-30) scale(0.846)"/><use href="#s-mc" transform="translate(610.0,394.0) rotate(160) scale(0.88)"/><use href="#s-th" transform="translate(572.0,413.8) rotate(35) scale(0.94)"/><use href="#s-sg" transform="translate(607.0,422.5) scale(0.846)"/><use href="#s-cd" transform="translate(627.0,407.5) rotate(25) scale(0.94)"/><use href="#s-ec" transform="translate(639.0,414.0) scale(0.658)"/><use href="#s-so" transform="translate(548.5,345.0) scale(0.752)"/><rect x="535.75" y="432.5" width="119.25" height="18" fill="url(#bd)"/></g>
<rect x="556.0" y="152.2" width="25.0" height="8.6" rx="1" fill="url(#hg)"/><rect x="608.5" y="152.2" width="22.7" height="8.6" rx="1" fill="url(#hg)"/>
<rect x="592" y="61" width="9.5" height="79.5" rx="1.2" fill="#1b1b1d"/>
<path d="M535.75,135.5 Q535.75,132.5 538.75,132.5 L569.5,132.5 L569.5,128 L620,128 L620,134.0 L629,134.0 L631,132.5 L652,132.5 Q655,132.5 655,135.5 L654.4,148 Q654,151 651,151 L539.75,151 Q536.75,151 536.35,148 Z" fill="url(#lg)"/>
<path d="M573.0,134.0 L626,134.0 L626,140.0 L573.0,140.0 Z" fill="#414144"/><rect x="573.0" y="140.0" width="53.0" height="1" fill="#2b2b2d"/>
<rect x="537.75" y="132.9" width="31.75" height="1.6" fill="#2c2c2e"/><rect x="632" y="132.9" width="21" height="1.6" fill="#2c2c2e"/>
<rect x="592" y="127" width="9.5" height="13.0" fill="#1b1b1d"/>
</g>
<g id="cup4">
<path id="b4" d="M716.5,127 L717.8,190 L721,248 L723.1,298 L725.6,348 L728,400 L730.5,437 C731.1,444 742.1,448.4 759.6,449.7 Q778.95,450.7 798.3,449.7 C815.8,448.4 826.8,444 827.4,437 L828,400 L829,348 L830.2,298 L831.5,248 L833.8,190 L835,127 Z" fill="url(#rg)"/>
<clipPath id="cp4"><use href="#b4"/></clipPath>
<g clip-path="url(#cp4)"><use href="#s-po" transform="translate(720.0,152.0) scale(0.94)"/><use href="#s-pg" transform="translate(743.0,155.0) scale(0.94)"/><use href="#s-sc" transform="translate(779.0,153.0) rotate(30) scale(0.94)"/><use href="#s-cg" transform="translate(811.0,154.0) scale(0.94)"/><use href="#s-bc" transform="translate(830.0,157.0) rotate(5) scale(0.846)"/><use href="#s-ec" transform="translate(722.5,187.0) scale(0.94)"/><use href="#s-sy" transform="translate(735.6,183.0) scale(0.94)"/><use href="#s-wg" transform="translate(763.0,180.5) scale(0.94)"/><use href="#s-sg" transform="translate(798.0,196.0) scale(0.94)"/><use href="#s-bc" transform="translate(826.5,178.0) rotate(8) scale(0.846)"/><use href="#s-sp" transform="translate(724.0,227.0) scale(0.94)"/><use href="#s-ch" transform="translate(741.0,214.0) scale(0.94)"/><use href="#s-lt" transform="translate(770.0,219.0) scale(0.94)"/><use href="#s-so" transform="translate(818.8,212.0) scale(0.94)"/><use href="#s-pb" transform="translate(788.0,237.0) rotate(8) scale(0.94)"/><use href="#s-cd" transform="translate(814.0,235.5) rotate(15) scale(0.94)"/><use href="#s-lg" transform="translate(738.0,252.0) scale(0.94)"/><use href="#s-jh" transform="translate(761.0,250.0) rotate(-15) scale(0.94)"/><use href="#s-ch" transform="translate(819.0,261.0) rotate(10) scale(0.893)"/><use href="#s-hg" transform="translate(787.0,273.5) scale(0.94)"/><use href="#s-cd" transform="translate(744.0,276.0) rotate(-20) scale(0.987)"/><use href="#s-pf" transform="translate(762.0,280.0) scale(0.94)"/><use href="#s-ec" transform="translate(727.0,274.0) scale(0.94)"/><use href="#s-mc" transform="translate(809.0,286.6) rotate(30) scale(0.8)"/><use href="#s-bc" transform="translate(829.0,275.0) rotate(5) scale(0.846)"/><use href="#s-po" transform="translate(730.0,300.0) scale(0.94)"/><use href="#s-pg" transform="translate(755.0,304.0) scale(0.94)"/><use href="#s-sc" transform="translate(795.0,306.0) rotate(30) scale(0.94)"/><use href="#s-cg" transform="translate(820.6,301.0) scale(0.893)"/><use href="#s-wg" transform="translate(776.0,332.0) scale(0.94)"/><use href="#s-sy" transform="translate(748.0,332.0) scale(0.94)"/><use href="#s-ec" transform="translate(732.0,332.0) scale(0.94)"/><use href="#s-sg" transform="translate(811.0,342.0) scale(0.94)"/><use href="#s-bc" transform="translate(825.5,325.0) rotate(5) scale(0.752)"/><use href="#s-ch" transform="translate(753.0,364.0) scale(0.94)"/><use href="#s-lt" transform="translate(781.0,367.5) scale(0.94)"/><use href="#s-so" transform="translate(824.0,356.0) scale(0.893)"/><use href="#s-pb" transform="translate(805.0,382.5) rotate(8) scale(0.893)"/><use href="#s-cd" transform="translate(826.0,379.0) rotate(15) scale(0.846)"/><use href="#s-sp" transform="translate(735.6,370.6) scale(0.94)"/><use href="#s-lg" transform="translate(750.0,394.0) scale(0.94)"/><use href="#s-jh" transform="translate(779.0,394.0) rotate(-15) scale(0.94)"/><use href="#s-po" transform="translate(730.6,390.0) scale(0.846)"/><use href="#s-ch" transform="translate(822.0,412.5) rotate(10) scale(0.752)"/><use href="#s-mc" transform="translate(822.0,391.0) rotate(30) scale(0.8)"/><use href="#s-hg" transform="translate(799.0,417.5) scale(0.893)"/><use href="#s-pf" transform="translate(774.0,416.0) scale(0.94)"/><use href="#s-sw" transform="translate(756.0,424.0) scale(0.94)"/><use href="#s-yd" transform="translate(735.0,416.0) scale(0.752)"/><rect x="715.4" y="434" width="119.10000000000002" height="18" fill="url(#bd)"/></g>
<rect x="735.6" y="130.2" width="25.0" height="8.6" rx="1" fill="url(#hg)"/><rect x="788.1" y="130.2" width="22.6" height="8.6" rx="1" fill="url(#hg)"/>
<rect x="770" y="36.5" width="10" height="80.5" rx="1.2" fill="#1b1b1d"/>
<path d="M715.4,112 Q715.4,109 718.4,109 L749,109 L749,105 L802.5,105 L802.5,110.5 L811.5,110.5 L813.5,109 L831.5,109 Q834.5,109 834.5,112 L833.9,126 Q833.5,129 830.5,129 L719.4,129 Q716.4,129 716.0,126 Z" fill="url(#lg)"/>
<path d="M752.5,110.5 L808.5,110.5 L808.5,116.5 L752.5,116.5 Z" fill="#414144"/><rect x="752.5" y="116.5" width="56.0" height="1" fill="#2b2b2d"/>
<rect x="717.4" y="109.4" width="31.600000000000023" height="1.6" fill="#2c2c2e"/><rect x="814.5" y="109.4" width="18.0" height="1.6" fill="#2c2c2e"/>
<rect x="770" y="104" width="10" height="12.5" fill="#1b1b1d"/>
</g>
<g id="cup5">
<path id="b5" d="M886.7,100 L895.5,340 L897,400 L898.2,437 C898.8000000000001,444 909.6,448.9 926.7,450.2 Q945.6500000000001,451.2 964.6,450.2 C981.7,448.9 992.5,444 993.1,437 L994,400 L996,340 L1001,100 Z" fill="url(#rg)"/>
<clipPath id="cp5"><use href="#b5"/></clipPath>
<g clip-path="url(#cp5)"><use href="#s-po" transform="translate(897.8,162.2) scale(0.94)"/><use href="#s-pg" transform="translate(920.7,165.2) scale(0.94)"/><use href="#s-sc" transform="translate(956.8,163.2) rotate(30) scale(0.94)"/><use href="#s-cg" transform="translate(988.7,164.2) scale(0.94)"/><use href="#s-bc" transform="translate(1007.6,167.1) rotate(5) scale(0.846)"/><use href="#s-ec" transform="translate(899.3,196.3) scale(0.94)"/><use href="#s-sy" transform="translate(912.5,192.4) scale(0.94)"/><use href="#s-wg" transform="translate(940.0,190.0) scale(0.94)"/><use href="#s-sg" transform="translate(974.6,205.1) scale(0.94)"/><use href="#s-bc" transform="translate(1003.6,187.6) rotate(8) scale(0.846)"/><use href="#s-sp" transform="translate(899.7,235.3) scale(0.94)"/><use href="#s-ch" transform="translate(917.0,222.6) scale(0.94)"/><use href="#s-lt" transform="translate(945.9,227.5) scale(0.94)"/><use href="#s-so" transform="translate(994.9,220.7) scale(0.94)"/><use href="#s-pb" transform="translate(963.4,245.0) rotate(8) scale(0.94)"/><use href="#s-cd" transform="translate(989.4,243.6) rotate(15) scale(0.94)"/><use href="#s-lg" transform="translate(913.0,259.6) scale(0.94)"/><use href="#s-jh" transform="translate(936.0,257.7) rotate(-15) scale(0.94)"/><use href="#s-ch" transform="translate(993.7,268.4) rotate(10) scale(0.893)"/><use href="#s-hg" transform="translate(961.4,280.6) scale(0.94)"/><use href="#s-cd" transform="translate(918.3,283.0) rotate(-20) scale(0.987)"/><use href="#s-pf" transform="translate(936.2,286.9) scale(0.94)"/><use href="#s-ec" transform="translate(901.4,281.1) scale(0.94)"/><use href="#s-mc" transform="translate(983.0,293.3) rotate(30) scale(0.8)"/><use href="#s-bc" transform="translate(1003.3,282.0) rotate(5) scale(0.846)"/><use href="#s-po" transform="translate(903.6,306.4) scale(0.94)"/><use href="#s-pg" transform="translate(928.5,310.3) scale(0.94)"/><use href="#s-sc" transform="translate(968.5,312.2) rotate(30) scale(0.94)"/><use href="#s-cg" transform="translate(994.2,307.4) scale(0.893)"/><use href="#s-wg" transform="translate(948.7,337.6) scale(0.94)"/><use href="#s-sy" transform="translate(920.7,337.6) scale(0.94)"/><use href="#s-ec" transform="translate(904.7,337.6) scale(0.94)"/><use href="#s-sg" transform="translate(983.5,347.3) scale(0.94)"/><use href="#s-bc" transform="translate(998.4,330.7) rotate(5) scale(0.752)"/><use href="#s-ch" transform="translate(924.8,368.7) scale(0.94)"/><use href="#s-lt" transform="translate(952.8,372.1) scale(0.94)"/><use href="#s-so" transform="translate(996.1,360.9) scale(0.893)"/><use href="#s-pb" transform="translate(976.3,386.7) rotate(8) scale(0.893)"/><use href="#s-cd" transform="translate(997.4,383.3) rotate(15) scale(0.846)"/><use href="#s-sp" transform="translate(907.3,375.2) scale(0.94)"/><use href="#s-lg" transform="translate(921.0,397.9) scale(0.94)"/><use href="#s-jh" transform="translate(950.0,397.9) rotate(-15) scale(0.94)"/><use href="#s-po" transform="translate(901.7,394.1) scale(0.846)"/><use href="#s-ch" transform="translate(992.5,416.0) rotate(10) scale(0.752)"/><use href="#s-mc" transform="translate(993.1,395.0) rotate(30) scale(0.8)"/><use href="#s-hg" transform="translate(969.4,420.8) scale(0.893)"/><use href="#s-pf" transform="translate(944.4,419.4) scale(0.94)"/><use href="#s-sw" transform="translate(926.2,427.2) scale(0.94)"/><use href="#s-yd" transform="translate(905.4,419.4) scale(0.752)"/><use href="#s-sg" transform="translate(901.0,134.0) scale(0.564)"/><use href="#s-hg" transform="translate(936.5,135.0) rotate(-20) scale(0.893)"/><use href="#s-cl" transform="translate(972.5,125.5) rotate(5) scale(0.94)"/><use href="#s-mc" transform="translate(923.0,122.0) scale(0.8)"/><use href="#s-so" transform="translate(997.0,133.0) scale(0.752)"/><rect x="885.7" y="434.5" width="116.29999999999995" height="18" fill="url(#bd)"/></g>
<rect x="905.5" y="103.2" width="24.4" height="8.6" rx="1" fill="url(#hg)"/><rect x="956.6" y="103.2" width="22.1" height="8.6" rx="1" fill="url(#hg)"/>
<rect x="940" y="10.8" width="10" height="81.2" rx="1.2" fill="#1b1b1d"/>
<path d="M885.7,87 Q885.7,84 888.7,84 L918,84 L918,80 L972,80 L972,85.5 L981,85.5 L983,84 L999,84 Q1002,84 1002,87 L1001.4,99 Q1001,102 998,102 L889.7,102 Q886.7,102 886.3000000000001,99 Z" fill="url(#lg)"/>
<path d="M921.5,85.5 L978,85.5 L978,91.5 L921.5,91.5 Z" fill="#414144"/><rect x="921.5" y="91.5" width="56.5" height="1" fill="#2b2b2d"/>
<rect x="887.7" y="84.4" width="30.299999999999955" height="1.6" fill="#2c2c2e"/><rect x="984" y="84.4" width="16" height="1.6" fill="#2c2c2e"/>
<rect x="940" y="79" width="10" height="12.5" fill="#1b1b1d"/>
</g>
</svg>
<div class="abs" style="left:0;top:0;width:1024px;height:958px">
<div class="row" style="top:472px;height:55px;background:#FDDD96"></div>
<div class="row" style="top:527px;height:55px;background:#E8D8FD"></div>
<div class="row" style="top:582px;height:55px;background:#FDDD96"></div>
<div class="row" style="top:637px;height:56px;background:#E8D8FD"></div>
<div class="row" style="top:693px;height:55px;background:#FDDD96"></div>
<div class="row" style="top:748px;height:56px;background:#E8D8FD"></div>
<div class="t lab" style="left:-13.00px;top:487.90px;">Size</div><div class="t val" style="left:154.60px;top:487.40px;">18oz</div><div class="t val" style="left:327.10px;top:487.40px;">22oz</div><div class="t val" style="left:500.60px;top:487.40px;">26oz</div><div class="t val" style="left:676.90px;top:487.40px;">30oz</div><div class="t val" style="left:846.60px;top:487.40px;">34oz</div>
<div class="t lab" style="left:-12.85px;top:540.90px;">Cup Base(in)</div><div class="t val" style="left:154.60px;top:539.40px;">2.8</div><div class="t val" style="left:327.10px;top:539.40px;">2.8</div><div class="t val" style="left:500.60px;top:539.40px;">2.8</div><div class="t val" style="left:676.90px;top:539.40px;">2.9</div><div class="t val" style="left:846.60px;top:539.40px;">2.9</div>
<div class="t lab" style="left:-13.70px;top:595.70px;">Mouth(in)</div><div class="t val" style="left:154.60px;top:594.70px;">3.5</div><div class="t val" style="left:327.10px;top:594.70px;">3.5</div><div class="t val" style="left:500.60px;top:594.70px;">3.5</div><div class="t val" style="left:676.90px;top:594.70px;">3.5</div><div class="t val" style="left:846.60px;top:594.70px;">3.5</div>
<div class="t lab" style="left:-7.15px;top:651.10px;">Cup Height(in)</div><div class="t val" style="left:154.60px;top:650.20px;">6.3</div><div class="t val" style="left:327.10px;top:650.20px;">7.5</div><div class="t val" style="left:500.60px;top:650.20px;">8.7</div><div class="t val" style="left:676.90px;top:650.20px;">9.4</div><div class="t val" style="left:846.60px;top:650.20px;">10.4</div>
<div class="t lab" style="left:-12.50px;top:706.00px;">Weight(lb)</div><div class="t val" style="left:154.60px;top:705.60px;">0.72</div><div class="t val" style="left:327.10px;top:705.60px;">0.81</div><div class="t val" style="left:500.60px;top:705.60px;">0.88</div><div class="t val" style="left:676.90px;top:705.60px;">0.95</div><div class="t val" style="left:846.60px;top:705.60px;">1.04</div>
<div class="t lab" style="left:-13.90px;top:762.70px;">Fits Cup Holder</div><div class="t val" style="left:153.10px;top:763.40px;">YES</div><div class="t val" style="left:326.60px;top:763.40px;">YES</div><div class="t val" style="left:501.60px;top:763.40px;">YES</div><div class="t val" style="left:675.90px;top:763.40px;">YES</div><div class="t val" style="left:846.60px;top:763.40px;">YES</div>
<div class="t lab" style="left:-14.85px;top:851.60px;">Included</div><div class="t lab" style="left:-12.25px;top:883.50px;">Components</div>
<div class="hl" style="top:471.5px"></div><div class="hl" style="top:526.5px"></div><div class="hl" style="top:581.5px"></div><div class="hl" style="top:636.5px"></div><div class="hl" style="top:692.5px"></div><div class="hl" style="top:747.5px"></div><div class="hl" style="top:803.5px"></div><div class="hl" style="top:954.5px"></div><div class="vl" style="left:173.5px;top:472px;height:483px"></div><div class="vl" style="left:339.5px;top:472px;height:483px"></div><div class="vl" style="left:515.5px;top:472px;height:483px"></div><div class="vl" style="left:690.5px;top:472px;height:483px"></div><div class="vl" style="left:865.5px;top:472px;height:483px"></div>
</div>
<svg class="abs" style="left:0;top:804px" width="1024" height="152" viewBox="0 804 1024 152">
<defs>
<linearGradient id="sg1" x1="0" x2="1" y1="0" y2="0"><stop offset="0" stop-color="#2a2a2c"/><stop offset=".5" stop-color="#4a4a4d"/><stop offset="1" stop-color="#2a2a2c"/></linearGradient>
<linearGradient id="pg1" x1="0" x2="1" y1="0" y2="0"><stop offset="0" stop-color="#151517"/><stop offset=".45" stop-color="#2c2c2f"/><stop offset="1" stop-color="#131315"/></linearGradient>
<g id="comp"><rect x="195.6" y="825.8" width="4" height="115" rx="1.6" fill="url(#sg1)"/><rect x="209" y="825.8" width="4" height="115" rx="1.6" fill="url(#sg1)"/>
<ellipse cx="269.6" cy="875" rx="24.8" ry="17.2" fill="#1a1a1c"/>
<path d="M245.5,876 A24.5,14 0 0 0 293.7,876" fill="none" stroke="#303033" stroke-width="1"/>
<path d="M246.5,880.5 A24,13 0 0 0 292.7,880.5" fill="none" stroke="#2c2c2f" stroke-width="1"/>
<path d="M237,858 A32.4,18.5 0 0 1 301.8,858 L301.8,866 A32.4,18.5 0 0 1 237,866 Z" fill="#222224"/>
<path d="M237,866 A32.4,18.5 0 0 0 301.8,866" fill="none" stroke="#38383b" stroke-width="1.2"/>
<ellipse cx="269.4" cy="858.3" rx="32.4" ry="18.5" fill="#2d2d30"/>
<ellipse cx="269.2" cy="859.8" rx="28.6" ry="15.4" fill="#17171a"/>
<path d="M281,846 L296,862 A28.6,15.4 0 0 0 286,847.5 Z" fill="#2a2a2d"/>
<path d="M281,846 L295,863 L289,869 L275,851 Z" fill="#202023"/>
<circle cx="267.4" cy="860" r="5.6" fill="#27272a"/><circle cx="267" cy="858.6" r="3.6" fill="#303034"/>
<ellipse cx="279.6" cy="873.5" rx="3" ry="1.8" fill="#0e0e10" stroke="#3a3a3d" stroke-width=".7" transform="rotate(-20 279.6 873.5)"/>
<path d="M255,847 L262,844.5 L263.5,858 L256.5,860 Z" fill="#1f1f22"/>
<circle cx="257.9" cy="854.6" r="1.5" fill="#e9e9ea"/>
<path d="M246.2,825.6 Q244.2,826.6 245,828.6 L252.2,844.8 L278,834.3 L271.6,818.4 Q270.8,816.2 268.6,816.8 Z" fill="#2c2c2f"/>
<path d="M246.2,825.6 L268.6,816.8 Q270.8,816.2 271.6,818.4 L272.6,820.8 L248,830.6 L245,828.6 Q244.2,826.6 246.2,825.6 Z" fill="#3a3a3d"/>
<path d="M250.6,833.8 L274,824.4" stroke="#1d1d20" stroke-width="1"/>
<ellipse cx="266.6" cy="840" rx="5" ry="3.5" fill="#a8a8aa" stroke="#4c4c50" stroke-width="1" transform="rotate(-20 266.6 840)"/>
<ellipse cx="266.6" cy="840" rx="2.6" ry="1.6" fill="#8b8b8e" transform="rotate(-20 266.6 840)"/>
<rect x="235.3" y="910" width="22.6" height="22" fill="url(#pg1)"/><path d="M234.5,917 Q246.60000000000002,920.4 258.7,917" fill="none" stroke="#0c0c0e" stroke-width="1.3"/><path d="M234.5,918.3 Q246.60000000000002,921.7 258.7,918.3" fill="none" stroke="#353538" stroke-width=".7"/><path d="M234.5,921 Q246.60000000000002,924.4 258.7,921" fill="none" stroke="#0c0c0e" stroke-width="1.3"/><path d="M234.5,922.3 Q246.60000000000002,925.7 258.7,922.3" fill="none" stroke="#353538" stroke-width=".7"/><path d="M234.5,925 Q246.60000000000002,928.4 258.7,925" fill="none" stroke="#0c0c0e" stroke-width="1.3"/><path d="M234.5,926.3 Q246.60000000000002,929.7 258.7,926.3" fill="none" stroke="#353538" stroke-width=".7"/><path d="M232.3,929 Q231.9,926.6 235.3,926.4 Q246.60000000000002,931 257.90000000000003,926.4 Q261.3,926.6 260.90000000000003,929 L260.90000000000003,935.5 Q260.7,939.6 254.3,941 Q246.60000000000002,943 238.9,941 Q232.5,939.6 232.3,935.5 Z" fill="#18181a"/><path d="M232.9,930 Q246.60000000000002,935.6 260.3,930" fill="none" stroke="#303033" stroke-width=".9"/><path d="M232.3,905.5 Q232.3,901.6 239.3,900.4 Q246.60000000000002,898.8 253.9,900.4 Q260.90000000000003,901.6 260.90000000000003,905.5 L260.90000000000003,911 Q260.7,914 256.3,914.6 Q246.60000000000002,916.6 236.9,914.6 Q232.5,914 232.3,911 Z" fill="#1e1e20"/><ellipse cx="246.60000000000002" cy="905.2" rx="13.6" ry="4.6" fill="#2b2b2e"/>
<rect x="273" y="910" width="22.6" height="22" fill="url(#pg1)"/><path d="M272.2,917 Q284.3,920.4 296.4,917" fill="none" stroke="#0c0c0e" stroke-width="1.3"/><path d="M272.2,918.3 Q284.3,921.7 296.4,918.3" fill="none" stroke="#353538" stroke-width=".7"/><path d="M272.2,921 Q284.3,924.4 296.4,921" fill="none" stroke="#0c0c0e" stroke-width="1.3"/><path d="M272.2,922.3 Q284.3,925.7 296.4,922.3" fill="none" stroke="#353538" stroke-width=".7"/><path d="M272.2,925 Q284.3,928.4 296.4,925" fill="none" stroke="#0c0c0e" stroke-width="1.3"/><path d="M272.2,926.3 Q284.3,929.7 296.4,926.3" fill="none" stroke="#353538" stroke-width=".7"/><path d="M270,929 Q269.6,926.6 273,926.4 Q284.3,931 295.6,926.4 Q299,926.6 298.6,929 L298.6,935.5 Q298.4,939.6 292,941 Q284.3,943 276.6,941 Q270.2,939.6 270,935.5 Z" fill="#18181a"/><path d="M270.6,930 Q284.3,935.6 298,930" fill="none" stroke="#303033" stroke-width=".9"/><path d="M270,905.5 Q270,901.6 277,900.4 Q284.3,898.8 291.6,900.4 Q298.6,901.6 298.6,905.5 L298.6,911 Q298.4,914 294,914.6 Q284.3,916.6 274.6,914.6 Q270.2,914 270,911 Z" fill="#1e1e20"/><ellipse cx="284.3" cy="905.2" rx="13.6" ry="4.6" fill="#2b2b2e"/></g>
</defs>
<use href="#comp" x="0"/>
<use href="#comp" x="173.5"/>
<use href="#comp" x="348"/>
<use href="#comp" x="521.5"/>
<use href="#comp" x="696"/>
</svg>
</body></html>
